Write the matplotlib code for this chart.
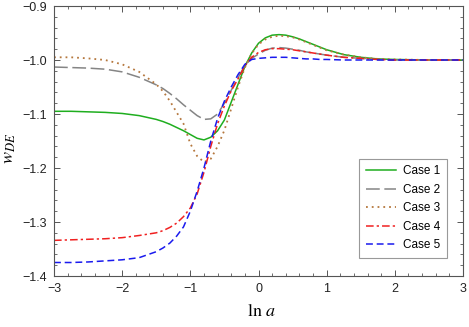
import matplotlib
matplotlib.use('Agg')
import matplotlib.pyplot as plt
import matplotlib.ticker as mticker

plt.rcParams['font.family'] = ['Liberation Sans', 'DejaVu Sans']
plt.rcParams['mathtext.fontset'] = 'stix'

# ln a sample points
lna = [-3.0, -2.75, -2.5, -2.25, -2.0, -1.75, -1.5, -1.4, -1.3, -1.2, -1.1,
       -1.0, -0.9, -0.8, -0.7, -0.6, -0.5, -0.4, -0.3, -0.2, -0.1, 0.0,
       0.1, 0.2, 0.3, 0.4, 0.5, 0.6, 0.7, 0.8, 0.9, 1.0, 1.25, 1.5, 1.75,
       2.0, 2.5, 3.0]

case1 = [-1.095, -1.095, -1.096, -1.097, -1.099, -1.103, -1.110, -1.114,
         -1.119, -1.125, -1.131, -1.138, -1.145, -1.148, -1.143, -1.131,
         -1.111, -1.078, -1.045, -1.012, -0.987, -0.969, -0.959, -0.954,
         -0.953, -0.954, -0.957, -0.961, -0.966, -0.971, -0.976, -0.981,
         -0.990, -0.995, -0.998, -0.999, -1.000, -1.000]
case2 = [-1.013, -1.014, -1.015, -1.017, -1.022, -1.032, -1.046, -1.053,
         -1.062, -1.072, -1.083, -1.093, -1.103, -1.110, -1.109, -1.100,
         -1.080, -1.056, -1.033, -1.010, -0.997, -0.989, -0.982, -0.978,
         -0.977, -0.978, -0.980, -0.982, -0.985, -0.987, -0.989, -0.991,
         -0.995, -0.997, -0.999, -1.000, -1.000, -1.000]
case3 = [-0.995, -0.995, -0.997, -1.000, -1.008, -1.022, -1.045, -1.058,
         -1.076, -1.097, -1.118, -1.155, -1.178, -1.189, -1.183, -1.160,
         -1.130, -1.090, -1.050, -1.014, -0.988, -0.971, -0.962, -0.957,
         -0.955, -0.956, -0.958, -0.962, -0.967, -0.972, -0.977, -0.982,
         -0.990, -0.995, -0.998, -0.999, -1.000, -1.000]
case4 = [-1.334, -1.333, -1.332, -1.331, -1.329, -1.325, -1.320, -1.316,
         -1.310, -1.302, -1.290, -1.274, -1.248, -1.208, -1.160, -1.118,
         -1.085, -1.057, -1.035, -1.011, -0.995, -0.986, -0.981, -0.979,
         -0.979, -0.980, -0.981, -0.983, -0.985, -0.987, -0.989, -0.991,
         -0.995, -0.997, -0.999, -1.000, -1.000, -1.000]
case5 = [-1.375, -1.375, -1.374, -1.372, -1.370, -1.366, -1.355, -1.348,
         -1.339, -1.326, -1.309, -1.280, -1.243, -1.200, -1.150, -1.108,
         -1.076, -1.050, -1.027, -1.008, -0.999, -0.997, -0.996, -0.995,
         -0.995, -0.995, -0.996, -0.997, -0.998, -0.998, -0.999, -0.999,
         -1.000, -1.000, -1.000, -1.000, -1.000, -1.000]

labels = ['Case 1', 'Case 2', 'Case 3', 'Case 4', 'Case 5']

fig = plt.figure(figsize=(4.69, 3.27), dpi=100)
ax = fig.add_axes([54/469, 1 - 276/327, 409/469, 270/327])

ax.plot(lna, case1, color='#1fae1f', lw=1.1, label=labels[0])
ax.plot(lna, case2, color='#858585', lw=1.1, ls=(0, (9, 3)), label=labels[1])
ax.plot(lna, case3, color='#b5773d', lw=1.3, ls=(0, (1, 2.2)), label=labels[2])
ax.plot(lna, case4, color='#f02020', lw=1.1, ls=(0, (5, 2, 1.5, 2)), label=labels[3])
ax.plot(lna, case5, color='#1a1aee', lw=1.1, ls=(0, (4.5, 2.5)), label=labels[4])

ax.set_xlim(-3, 3)
ax.set_ylim(-1.4, -0.9)
ax.xaxis.set_major_locator(mticker.MultipleLocator(1))
ax.xaxis.set_minor_locator(mticker.MultipleLocator(0.2))
ax.yaxis.set_major_locator(mticker.MultipleLocator(0.1))
ax.yaxis.set_minor_locator(mticker.MultipleLocator(0.02))
ax.yaxis.set_major_formatter(mticker.FuncFormatter(lambda v, p: f'{v:.1f}'.replace('-', '\u2212')))
ax.xaxis.set_major_formatter(mticker.FuncFormatter(lambda v, p: f'{v:.0f}'.replace('-', '\u2212')))

fc = '#555555'
for s in ax.spines.values():
    s.set_color(fc)
    s.set_linewidth(0.8)
ax.tick_params(which='both', direction='in', top=True, right=True, color=fc,
               labelsize=9, labelcolor='#222222')
ax.tick_params(which='major', length=4.5, width=0.7)
ax.tick_params(which='minor', length=2.5, width=0.6)
ax.tick_params(axis='y', pad=5)
ax.tick_params(axis='x', pad=5)

fig.text(261/469, 1 - 312/327, r'$\ln\,a$', ha='center', va='center', fontsize=13)
fig.text(9/469, 1 - 148/327, r'$w_{DE}$', ha='center', va='center',
         rotation=90, fontsize=13)

leg = ax.legend(loc='lower right', bbox_to_anchor=(0.961, 0.067),
                borderaxespad=0, fancybox=False, framealpha=1,
                edgecolor='#999999', fontsize=8.5, handlelength=2.6,
                handletextpad=0.6, labelspacing=0.55, borderpad=0.55)
leg.get_frame().set_linewidth(0.8)

fig.savefig('out.png', dpi=100)
